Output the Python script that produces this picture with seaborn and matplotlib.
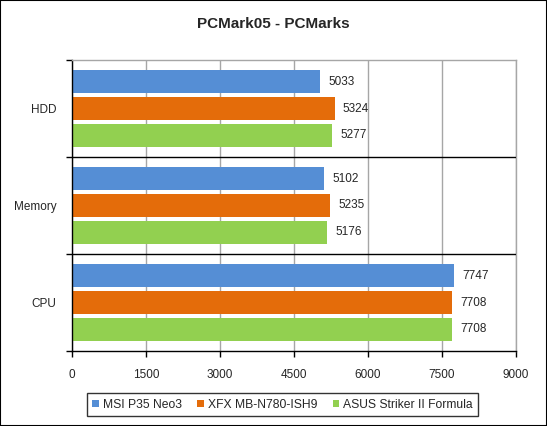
import matplotlib
matplotlib.use("Agg")
import matplotlib.pyplot as plt
import seaborn as sns
import pandas as pd
from matplotlib.patches import Rectangle

categories = ["HDD", "Memory", "CPU"]
series = ["MSI P35 Neo3", "XFX MB-N780-ISH9", "ASUS Striker II Formula"]
msi = [5033, 5102, 7747]
xfx = [5324, 5235, 7708]
asus = [5277, 5176, 7708]
xticks = [0, 1500, 3000, 4500, 6000, 7500, 9000]
title = "PCMark05 - PCMarks"
colors = ["#558ED5", "#E46C0A", "#92D050"]

rows = []
for s, vals in zip(series, [msi, xfx, asus]):
    for c, v in zip(categories, vals):
        rows.append({"cat": c, "series": s, "value": v})
df = pd.DataFrame(rows)

sns.set_style("white")
plt.rcParams["font.family"] = ["Liberation Sans", "DejaVu Sans"]

fig = plt.figure(figsize=(5.47, 4.26), dpi=100)
ax = fig.add_axes([72/547, 1-351/426, (516-72)/547, (351-60)/426])

sns.barplot(data=df, y="cat", x="value", hue="series", order=categories,
            hue_order=series, palette=colors, orient="h", width=0.835, gap=0.15,
            saturation=1, linewidth=0, ax=ax, legend=True)

for cont in ax.containers:
    ax.bar_label(cont, fmt="%d", padding=6, fontsize=8.5)

ax.set_xlim(0, 9000)
ax.set_ylim(2.5, -0.5)
ax.set_xticks(xticks)
ax.set_xticklabels([str(t) for t in xticks], fontsize=8.5)
ax.set_yticks([-0.5, 0.5, 1.5, 2.5])
ax.set_yticklabels([])
ax.set_yticks([0, 1, 2], minor=True)
ax.set_yticklabels(categories, minor=True, fontsize=8.5)
ax.tick_params(axis="y", which="major", direction="out", length=4, width=1, color="black", left=True)
ax.tick_params(axis="y", which="minor", length=0, pad=11)
ax.tick_params(axis="x", direction="out", length=4, width=1, color="black", bottom=True, pad=9)
ax.set_xlabel("")
ax.set_ylabel("")
ax.grid(axis="x", color="#A6A6A6", linewidth=1)
ax.set_axisbelow(True)
for yv in [0.5, 1.5]:
    ax.axhline(yv, color="black", linewidth=1, zorder=3)
for side in ["left", "bottom"]:
    ax.spines[side].set_color("black")
    ax.spines[side].set_linewidth(1)
for side in ["top", "right"]:
    ax.spines[side].set_color("#A6A6A6")
    ax.spines[side].set_linewidth(1)

ax.get_legend().remove()
handles, labels = ax.get_legend_handles_labels()
leg = fig.legend(handles[:3], labels[:3], loc="center", bbox_to_anchor=(282.5/547, 1-404.5/426),
                 ncol=3, frameon=True, fontsize=8.7, handlelength=0.55, handleheight=0.55,
                 handletextpad=0.3, columnspacing=1.3, borderpad=0.45, fancybox=False)
leg.get_frame().set_edgecolor("black")
leg.get_frame().set_linewidth(1)

fig.text(0.5, 1-24/426, title, ha="center", va="center", fontsize=11, fontweight="bold")
fig.patches.append(Rectangle((0, 0), 1, 1, transform=fig.transFigure, fill=False,
                             edgecolor="black", linewidth=1.5))

fig.savefig("out.png", dpi=100)
